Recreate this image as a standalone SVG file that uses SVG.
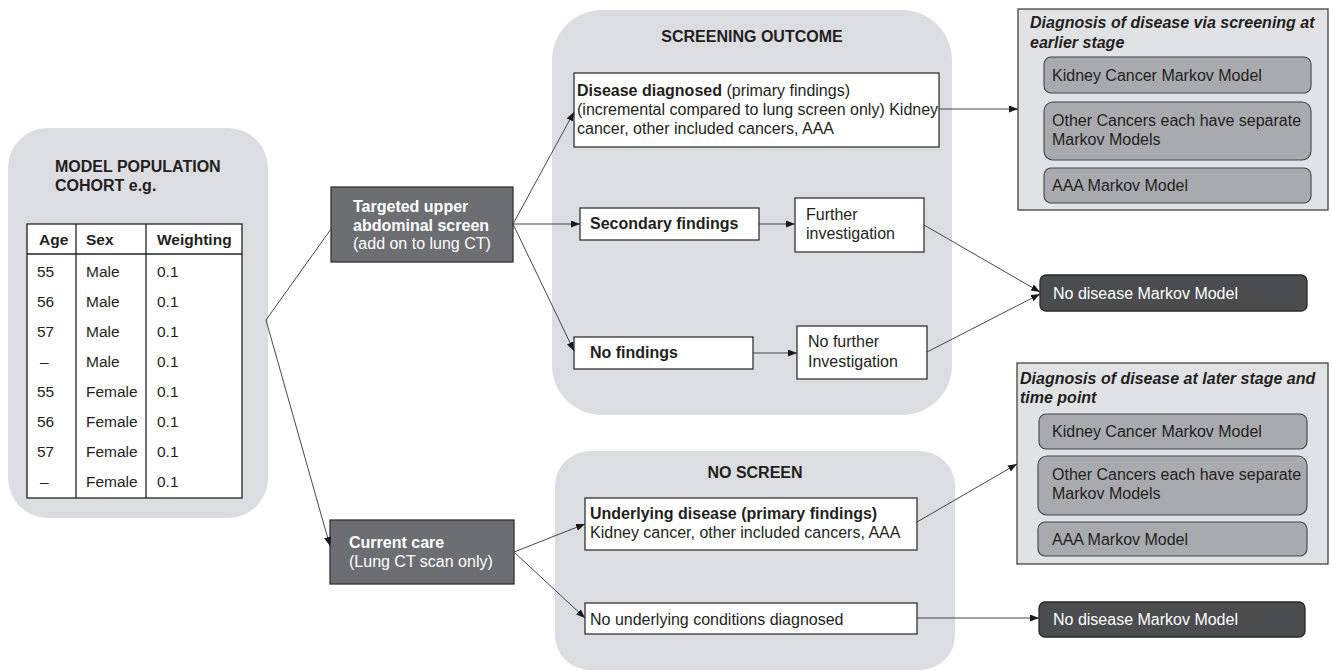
<svg xmlns="http://www.w3.org/2000/svg" width="1332" height="671" viewBox="0 0 1332 671">
<defs>
<marker id="arr" markerUnits="userSpaceOnUse" markerWidth="10" markerHeight="8" refX="9" refY="3.5" orient="auto">
<path d="M0,0 L9,3.5 L0,7 z" fill="#1a1a1a"/>
</marker>
</defs>
<style>
text{font-family:"Liberation Sans",Arial,sans-serif;font-size:16px;fill:#231f20}
.b{font-weight:bold}
.bi{font-weight:bold;font-style:italic}
.w{fill:#ffffff}
.panel{fill:#dcdde0;stroke:none}
.wbox{fill:#ffffff;stroke:#333333;stroke-width:1.3}
.dbox{fill:#6d6e71;stroke:#333333;stroke-width:1.3}
.nbox{fill:#4b4c4e;stroke:#2a2a2a;stroke-width:1.3}
.obox{fill:#e1e2e4;stroke:#444444;stroke-width:1.3}
.ibox{fill:#a9aaad;stroke:#444444;stroke-width:1.1}
.tl{stroke:#222222;stroke-width:1.3;fill:none}
.c{stroke:#333333;stroke-width:0.9;fill:none;marker-end:url(#arr)}
.t{font-size:15.5px}
</style>

<g id="cohort">
<rect class="panel" x="8" y="128" width="260" height="390" rx="40"/>
<text class="b" x="55" y="172">MODEL POPULATION</text>
<text class="b" x="55" y="191">COHORT e.g.</text>
<rect class="tl" x="27" y="224" width="215" height="274" style="fill:#ffffff"/>
<line class="tl" x1="27" y1="254" x2="242" y2="254"/>
<line class="tl" x1="76" y1="224" x2="76" y2="498"/>
<line class="tl" x1="146" y1="224" x2="146" y2="498"/>
<text class="b t" x="39" y="245">Age</text>
<text class="b t" x="86" y="245">Sex</text>
<text class="b t" x="157" y="245">Weighting</text>
<text class="t" x="37" y="277">55</text><text class="t" x="86" y="277">Male</text><text class="t" x="157" y="277">0.1</text>
<text class="t" x="37" y="307">56</text><text class="t" x="86" y="307">Male</text><text class="t" x="157" y="307">0.1</text>
<text class="t" x="37" y="337">57</text><text class="t" x="86" y="337">Male</text><text class="t" x="157" y="337">0.1</text>
<text class="t" x="40" y="367">–</text><text class="t" x="86" y="367">Male</text><text class="t" x="157" y="367">0.1</text>
<text class="t" x="37" y="397">55</text><text class="t" x="86" y="397">Female</text><text class="t" x="157" y="397">0.1</text>
<text class="t" x="37" y="427">56</text><text class="t" x="86" y="427">Female</text><text class="t" x="157" y="427">0.1</text>
<text class="t" x="37" y="457">57</text><text class="t" x="86" y="457">Female</text><text class="t" x="157" y="457">0.1</text>
<text class="t" x="40" y="487">–</text><text class="t" x="86" y="487">Female</text><text class="t" x="157" y="487">0.1</text>
</g>

<g id="screening-panel">
<rect class="panel" x="552" y="10" width="400" height="405" rx="50"/>
<text class="b" x="752" y="42" text-anchor="middle">SCREENING OUTCOME</text>
</g>

<g id="noscreen-panel">
<rect class="panel" x="555" y="451" width="400" height="219" rx="35"/>
<text class="b" x="755" y="478" text-anchor="middle">NO SCREEN</text>
</g>

<g id="targeted">
<rect class="dbox" x="331" y="187" width="182" height="75"/>
<text class="b w" x="353" y="212">Targeted upper</text>
<text class="b w" x="353" y="231">abdominal screen</text>
<text class="w" x="353" y="249">(add on to lung CT)</text>
</g>

<g id="current-care">
<rect class="dbox" x="330" y="520" width="184" height="64"/>
<text class="b w" x="349" y="548">Current care</text>
<text class="w" x="349" y="567">(Lung CT scan only)</text>
</g>

<g id="disease-diagnosed">
<rect class="wbox" x="574" y="73" width="365" height="74"/>
<text x="577" y="96"><tspan class="b">Disease diagnosed</tspan> (primary findings)</text>
<text x="577" y="115">(incremental compared to lung screen only) Kidney</text>
<text x="577" y="134">cancer, other included cancers, AAA</text>
</g>

<g id="secondary">
<rect class="wbox" x="580" y="208" width="179" height="32"/>
<text class="b" x="590" y="229">Secondary findings</text>
</g>

<g id="further">
<rect class="wbox" x="795" y="198" width="129" height="54"/>
<text x="806" y="220">Further</text>
<text x="806" y="239">investigation</text>
</g>

<g id="no-findings">
<rect class="wbox" x="574" y="337" width="179" height="32"/>
<text class="b" x="590" y="358">No findings</text>
</g>

<g id="no-further">
<rect class="wbox" x="797" y="326" width="130" height="53"/>
<text x="808" y="347">No further</text>
<text x="808" y="367">Investigation</text>
</g>

<g id="underlying">
<rect class="wbox" x="585" y="498" width="332" height="52"/>
<text class="b" x="590" y="519">Underlying disease (primary findings)</text>
<text x="590" y="538">Kidney cancer, other included cancers, AAA</text>
</g>

<g id="no-underlying">
<rect class="wbox" x="585" y="603" width="332" height="31"/>
<text x="590" y="625">No underlying conditions diagnosed</text>
</g>

<g id="early-diagnosis">
<rect class="obox" x="1018" y="9" width="310" height="201"/>
<text class="bi" x="1030" y="28">Diagnosis of disease via screening at</text>
<text class="bi" x="1030" y="48">earlier stage</text>
<rect class="ibox" x="1044" y="57" width="267" height="36" rx="7"/>
<text x="1052" y="81">Kidney Cancer Markov Model</text>
<rect class="ibox" x="1044" y="102" width="267" height="58" rx="9"/>
<text x="1052" y="126">Other Cancers each have separate</text>
<text x="1052" y="145">Markov Models</text>
<rect class="ibox" x="1044" y="168" width="267" height="35" rx="7"/>
<text x="1052" y="191">AAA Markov Model</text>
</g>

<g id="no-disease-1">
<rect class="nbox" x="1040" y="275" width="267" height="36" rx="6"/>
<text class="w" x="1053" y="299">No disease Markov Model</text>
</g>

<g id="late-diagnosis">
<rect class="obox" x="1017" y="363" width="311" height="201"/>
<text class="bi" x="1020" y="384">Diagnosis of disease at later stage and</text>
<text class="bi" x="1020" y="403">time point</text>
<rect class="ibox" x="1039" y="414" width="268" height="35" rx="7"/>
<text x="1052" y="437">Kidney Cancer Markov Model</text>
<rect class="ibox" x="1038" y="456" width="269" height="59" rx="9"/>
<text x="1052" y="480">Other Cancers each have separate</text>
<text x="1052" y="499">Markov Models</text>
<rect class="ibox" x="1038" y="522" width="269" height="34" rx="7"/>
<text x="1052" y="545">AAA Markov Model</text>
</g>

<g id="no-disease-2">
<rect class="nbox" x="1039" y="602" width="266" height="35" rx="6"/>
<text class="w" x="1053" y="625">No disease Markov Model</text>
</g>

<g id="connectors">
<polyline class="c" points="331,229 266,320 330,546"/>
<line class="c" x1="513" y1="224" x2="574" y2="112"/>
<line class="c" x1="513" y1="224" x2="580" y2="224"/>
<line class="c" x1="513" y1="224" x2="574" y2="351"/>
<line class="c" x1="759" y1="224" x2="795" y2="224"/>
<line class="c" x1="753" y1="353" x2="797" y2="353"/>
<line class="c" x1="939" y1="109" x2="1018" y2="109"/>
<line class="c" x1="924" y1="225" x2="1040" y2="292"/>
<line class="c" x1="927" y1="352" x2="1040" y2="294"/>
<line class="c" x1="514" y1="552" x2="585" y2="524"/>
<line class="c" x1="514" y1="552" x2="585" y2="618"/>
<line class="c" x1="917" y1="522" x2="1017" y2="464"/>
<line class="c" x1="917" y1="618" x2="1039" y2="618"/>
</g>
</svg>
